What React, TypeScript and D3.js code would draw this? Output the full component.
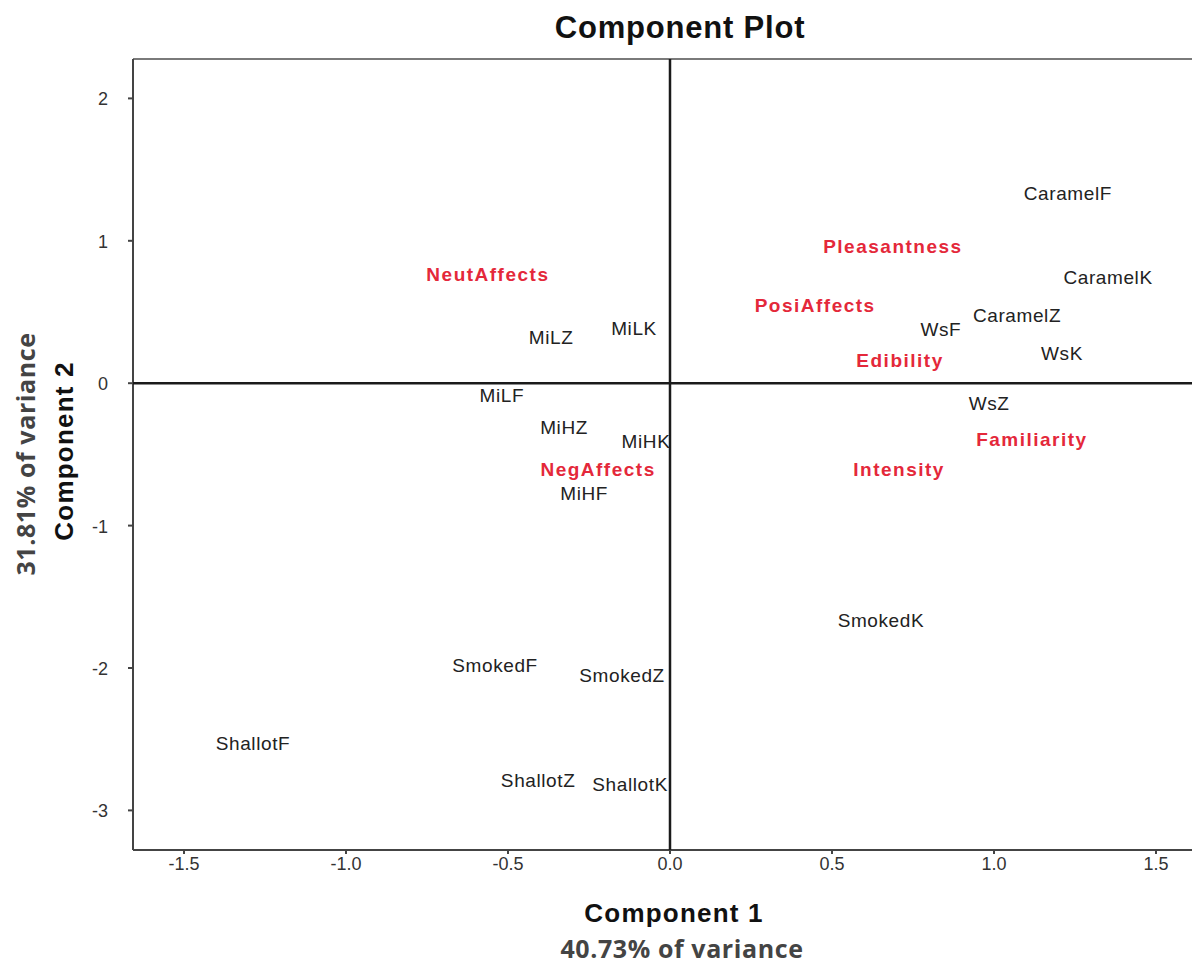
import React from "react";
import * as d3 from "d3";

const sampleLabels = ["CaramelF","CaramelK","CaramelZ","WsF","WsK","WsZ","SmokedK","MiLK","MiLZ","MiLF","MiHZ","MiHK","MiHF","SmokedF","SmokedZ","ShallotF","ShallotZ","ShallotK"];
const sampleX = [1.228,1.352,1.071,0.836,1.21,0.985,0.651,-0.111,-0.367,-0.519,-0.327,-0.074,-0.265,-0.54,-0.148,-1.287,-0.407,-0.123];
const sampleY = [1.333,0.743,0.476,0.378,0.209,-0.142,-1.66,0.385,0.322,-0.086,-0.31,-0.409,-0.774,-1.981,-2.051,-2.529,-2.789,-2.817];

const varLabels = ["Pleasantness","NeutAffects","PosiAffects","Edibility","Familiarity","Intensity","NegAffects"];
const varX = [0.688,-0.562,0.448,0.71,1.117,0.707,-0.222];
const varY = [0.96,0.764,0.546,0.16,-0.395,-0.605,-0.605];

const xTicks = [-1.5,-1.0,-0.5,0.0,0.5,1.0,1.5];
const yTicks = [-3,-2,-1,0,1,2];

const W = 1192, H = 967;
const left = 133, top = 59, bottom = 850, right = 1200;

export default function App() {
  const x = d3.scaleLinear().domain([-1.6574, 1.6358]).range([left, right]);
  const y = d3.scaleLinear().domain([-3.2781, 2.2767]).range([bottom, top]);
  const sans = "'Liberation Sans', Arial, sans-serif";
  const open = "'Open Sans', 'Noto Sans', sans-serif";
  return (
    <svg width={W} height={H} style={{ position: "absolute", left: 0, top: 0, background: "#fff" }}>
      <defs>
        <clipPath id="plotclip"><rect x={left} y={top} width={W - left} height={bottom - top} /></clipPath>
      </defs>
      <text x={680} y={38} textAnchor="middle" fontFamily={sans} fontWeight="bold" fontSize={31} letterSpacing={0.8} fill="#111">Component Plot</text>
      {/* frame */}
      <line x1={left} x2={W} y1={top} y2={top} stroke="#7a7a7a" strokeWidth={2} />
      <line x1={left} x2={left} y1={top} y2={bottom} stroke="#444" strokeWidth={2} />
      <line x1={left} x2={W} y1={bottom} y2={bottom} stroke="#444" strokeWidth={2} />
      {/* zero lines */}
      <g clipPath="url(#plotclip)">
        <line x1={x(0)} x2={x(0)} y1={top} y2={bottom} stroke="#1a1a1a" strokeWidth={2.5} />
        <line x1={left} x2={W} y1={y(0)} y2={y(0)} stroke="#1a1a1a" strokeWidth={2.5} />
      </g>
      {/* x ticks */}
      {xTicks.map((t) => (
        <g key={"x" + t}>
          <line x1={x(t)} x2={x(t)} y1={bottom} y2={bottom + 4} stroke="#444" strokeWidth={2} />
          <text x={x(t)} y={bottom + 20} textAnchor="middle" fontFamily={sans} fontSize={18} fill="#333">{t.toFixed(1)}</text>
        </g>
      ))}
      {/* y ticks */}
      {yTicks.map((t) => (
        <g key={"y" + t}>
          <line x1={left - 5} x2={left} y1={y(t)} y2={y(t)} stroke="#444" strokeWidth={2} />
          <text x={left - 25} y={y(t) + 7} textAnchor="end" fontFamily={sans} fontSize={18} fill="#333">{String(t)}</text>
        </g>
      ))}
      {/* axis titles */}
      <text x={674} y={922} textAnchor="middle" fontFamily={sans} fontWeight="bold" fontSize={26} letterSpacing={1.2} fill="#111">Component 1</text>
      <text x={682} y={958} textAnchor="middle" fontFamily={open} fontWeight="bold" fontSize={25} letterSpacing={0.6} fill="#444">40.73% of variance</text>
      <text transform={`translate(73,451) rotate(-90)`} textAnchor="middle" fontFamily={sans} fontWeight="bold" fontSize={26} letterSpacing={1.2} fill="#111">Component 2</text>
      <text transform={`translate(35,454) rotate(-90)`} textAnchor="middle" fontFamily={open} fontWeight="bold" fontSize={25} letterSpacing={0.6} fill="#444">31.81% of variance</text>
      {/* labels */}
      <g clipPath="url(#plotclip)">
        {sampleLabels.map((l, i) => (
          <text key={l} x={x(sampleX[i])} y={y(sampleY[i]) + 7} textAnchor="middle" fontFamily={sans} fontSize={19} letterSpacing={0.6} fill="#222">{l}</text>
        ))}
        {varLabels.map((l, i) => (
          <text key={l} x={x(varX[i])} y={y(varY[i]) + 7} textAnchor="middle" fontFamily={sans} fontWeight="bold" fontSize={19} letterSpacing={1.5} fill="#e4283a">{l}</text>
        ))}
      </g>
    </svg>
  );
}
